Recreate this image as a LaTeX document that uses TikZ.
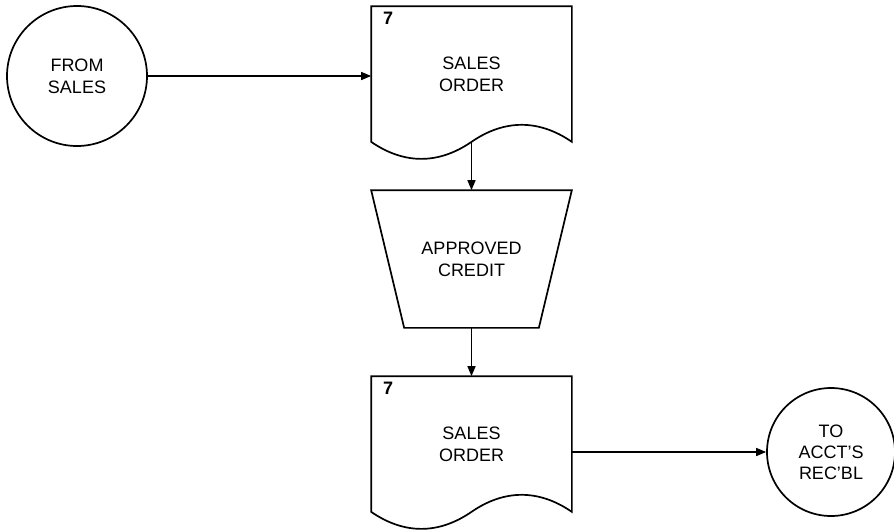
\documentclass[tikz,border=0pt]{standalone}
\usepackage{fontspec}
\setmainfont{Liberation Sans}
\usetikzlibrary{arrows.meta,calc}
\begin{document}
\begin{tikzpicture}[x=1pt,y=-1pt,
  line width=1.7pt,
  every node/.style={font=\fontsize{18}{22}\selectfont, align=center, inner sep=0pt},
  termcircle/.style={circle, draw, line width=1.7pt, minimum size=140pt},
  docbox/.style={minimum width=199pt, minimum height=134pt},
  manop/.style={minimum width=199pt, minimum height=136pt},
  flow/.style={-{Triangle[length=10pt,width=8pt]}, line width=1.5pt},
  numlabel/.style={anchor=north west, font=\bfseries\fontsize{18}{22}\selectfont}
]
\useasboundingbox (0,0) rectangle (894,530);
\node[termcircle] (from) at (77,76) {FROM\\SALES};
\node[docbox] (so1) at (471.5,74) {SALES\\ORDER};
\node[manop] (cred) at (471.5,259) {APPROVED\\CREDIT};
\node[docbox] (so2) at (471.5,444) {SALES\\ORDER};
\node[termcircle, minimum size=128pt, font=\fontsize{18}{21}\selectfont] (to) at (831,452) {TO\\ACCT'S\\REC'BL};
\node[numlabel] (n1) at ($(so1.north west)+(11,5)$) {7};
\node[numlabel] (n2) at ($(so2.north west)+(11,5)$) {7};
\foreach \d in {so1,so2}{
  \draw (\d.north west) -- (\d.north east) -- (\d.south east)
    .. controls +(-33,-22.7) and +(33,-22.7) .. (\d.south)
    .. controls +(-33,22.7) and +(33,22.7) .. (\d.south west) -- cycle;
}
\draw (cred.north west) -- (cred.north east) -- ($(cred.south east)+(-33,0)$) -- ($(cred.south west)+(33,0)$) -- cycle;
\draw[flow] (from.east) -- (from.east -| so1.west);
\draw[flow] (so1.south) -- (cred.north);
\draw[flow] (cred.south) -- (so2.north);
\draw[flow] (to.west -| so2.east) -- (to.west);
\end{tikzpicture}
\end{document}
